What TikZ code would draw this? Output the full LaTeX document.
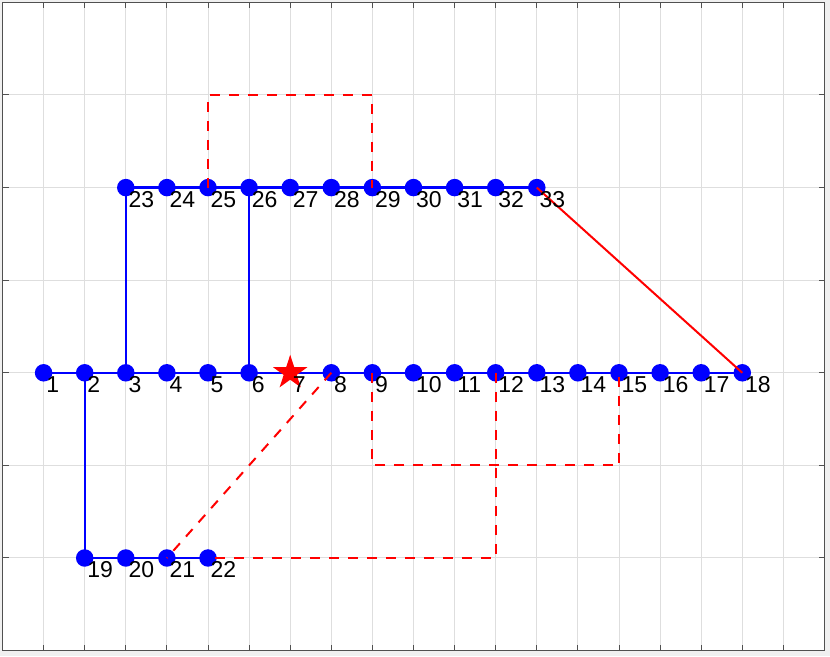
\documentclass[tikz,border=0pt]{standalone}
\usepackage{fontspec}
\setmainfont{Liberation Sans}
\usetikzlibrary{shapes.geometric}
\definecolor{mblue}{RGB}{0,0,255}
\definecolor{mred}{RGB}{255,0,0}
\definecolor{gridc}{RGB}{222,222,222}
\definecolor{framec}{RGB}{80,80,80}
\definecolor{outc}{RGB}{240,240,240}
\begin{document}
\begin{tikzpicture}[x=41.1pt,y=92.6pt,
  bus/.style={circle,fill=mblue,inner sep=0pt,minimum size=17.5pt},
  lbl/.style={anchor=base west,inner sep=0pt,font=\fontsize{23}{23}\selectfont},
  bline/.style={mblue,line width=2.3pt},
  rline/.style={mred,line width=2pt},
  rdash/.style={mred,line width=2pt,dash pattern=on 10pt off 9pt},
  gridline/.style={gridc,line width=1pt},
  tickline/.style={framec,line width=1pt}]
\useasboundingbox (-2.5pt,-5.4pt) rectangle (827.5pt,650.6pt);
\fill[outc] (-2.5pt,-5.4pt) rectangle (827.5pt,650.6pt);
\fill[white] (0,0) rectangle (20,7);
% grid
\foreach \k in {1,...,19} \draw[gridline] (\k,0) -- (\k,7);
\foreach \k in {1,...,6} \draw[gridline] (0,\k) -- (20,\k);
% ticks
\foreach \k in {1,...,19} {
  \draw[tickline] (\k,0) -- ++(0,6pt);
  \draw[tickline] (\k,7) -- ++(0,-6pt);
}
\foreach \k in {1,...,6} {
  \draw[tickline] (0,\k) -- ++(6pt,0);
  \draw[tickline] (20,\k) -- ++(-6pt,0);
}
\draw[framec,line width=1pt] (0,0) rectangle (20,7);
% buses
\foreach \i in {1,...,6,8,9,...,18} \node[bus] (n\i) at (\i,3) {};
\foreach \i in {19,...,22} \node[bus] (n\i) at (\i-17,1) {};
\foreach \i in {23,...,33} \node[bus] (n\i) at (\i-20,5) {};
\coordinate (n7) at (7,3);
% blue lines
\draw[bline] (n1.center) -- (n18.center);
\draw[bline] (n23.center) -- (n33.center);
\draw[bline] (n19.center) -- (n22.center);
\draw[bline] (n2.center) -- (n19.center);
\draw[bline] (n3.center) -- (n23.center);
\draw[bline] (n6.center) -- (n26.center);
% red lines
\draw[rline] (n33.center) -- (n18.center);
\draw[rdash] (n25.center) -- ++(0,1) -| (n29.center);
\draw[rdash] (n8.center) -- (n21.center);
\draw[rdash] (n9.center) -- ++(0,-1) -| (n15.center);
\draw[rdash] (n12.center) |- (n22.center);
% star
\node[star,star points=5,star point ratio=2.618,fill=mred,minimum size=36pt,inner sep=0pt] (s7) at (n7) {};
% labels
\foreach \i in {1,...,33} \node[lbl] (l\i) at ([xshift=2.5pt,yshift=-19.5pt]n\i) {\i};
\end{tikzpicture}
\end{document}
